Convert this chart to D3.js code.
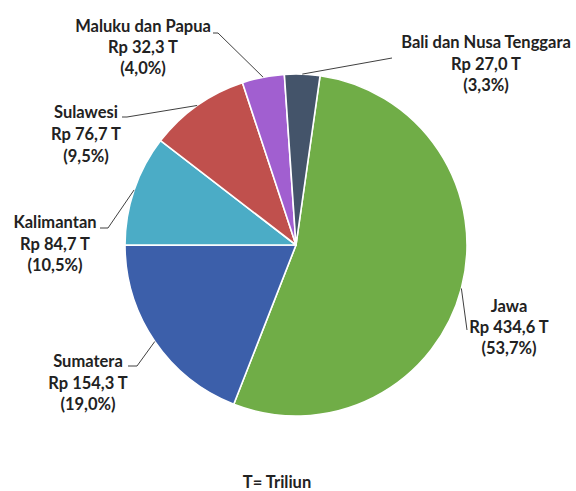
<!DOCTYPE html>
<html>
<head>
<meta charset="utf-8">
<script src="https://cdn.jsdelivr.net/npm/d3@7"></script>
<style>
  html, body { margin: 0; padding: 0; background: #fff; }
  svg { display: block; }
  text { font-family: Lato, "Open Sans", sans-serif; font-weight: 700; fill: #222; }
</style>
</head>
<body>
<svg id="chart" width="576" height="491"></svg>
<script>
// ---- data ----
const regions = ["Jawa", "Sumatera", "Kalimantan", "Sulawesi", "Maluku dan Papua", "Bali dan Nusa Tenggara"];
const values = [434.6, 154.3, 84.7, 76.7, 32.3, 27.0];
const valueLabels = ["Rp 434,6 T", "Rp 154,3 T", "Rp 84,7 T", "Rp 76,7 T", "Rp 32,3 T", "Rp 27,0 T"];
const percentLabels = ["(53,7%)", "(19,0%)", "(10,5%)", "(9,5%)", "(4,0%)", "(3,3%)"];
const colors = ["#70AD47", "#3C5FAA", "#4BACC6", "#C0504D", "#A15FD0", "#44546A"];
const footnote = "T= Triliun";

// ---- layout ----
const W = 576, H = 491;
const cx = 296, cy = 245, R = 171;
const startAngle = 8.1 * Math.PI / 180;
// label anchor: centre x, first baseline y, line gap; elbow point of leader; end of leader
const labelLayout = [
  { x: 509, y: 312, gap: 21, elbow: [467, 330], end: [467, 330] },
  { x: 88,  y: 367, gap: 21.5, elbow: [137, 366], end: [128, 366] },
  { x: 55,  y: 228, gap: 21.5, elbow: [108, 228], end: [100, 228] },
  { x: 86,  y: 118, gap: 22, elbow: [127, 117], end: [122, 117] },
  { x: 143, y: 32,  gap: 21, elbow: [218, 33], end: [213, 33] },
  { x: 486, y: 48,  gap: 21.5, elbow: [392, 58], end: [392, 58] }
];

const svg = d3.select("#chart");
const g = svg.append("g").attr("transform", `translate(${cx},${cy})`);

const pie = d3.pie().sort(null).value(d => d)
  .startAngle(startAngle).endAngle(startAngle + 2 * Math.PI);
const arcs = pie(values);
const arc = d3.arc().innerRadius(0).outerRadius(R);
const edgeArc = d3.arc().innerRadius(R).outerRadius(R);

g.selectAll("path.slice")
  .data(arcs)
  .join("path")
  .attr("class", "slice")
  .attr("d", arc)
  .attr("fill", (d, i) => colors[i])
  .attr("stroke", "#fff")
  .attr("stroke-width", 1.6)
  .attr("stroke-linejoin", "round");

// leader lines
const line = d3.line();
svg.selectAll("path.leader")
  .data(arcs)
  .join("path")
  .attr("class", "leader")
  .attr("d", (d, i) => {
    const c = edgeArc.centroid(d);
    const L = labelLayout[i];
    return line([[cx + c[0], cy + c[1]], L.elbow, L.end]);
  })
  .attr("fill", "none")
  .attr("stroke", "#404040")
  .attr("stroke-width", 1);

// labels
const lbl = svg.selectAll("text.lbl")
  .data(arcs)
  .join("text")
  .attr("class", "lbl")
  .attr("text-anchor", "middle")
  .attr("font-size", 16.5);
lbl.each(function(d, i) {
  const L = labelLayout[i];
  const t = d3.select(this);
  [regions[i], valueLabels[i], percentLabels[i]].forEach((s, k) => {
    t.append("tspan").attr("x", L.x).attr("y", L.y + k * L.gap).text(s);
  });
});

svg.append("text")
  .attr("x", 277).attr("y", 488)
  .attr("text-anchor", "middle")
  .attr("font-size", 16.5)
  .text(footnote);
</script>
</body>
</html>
